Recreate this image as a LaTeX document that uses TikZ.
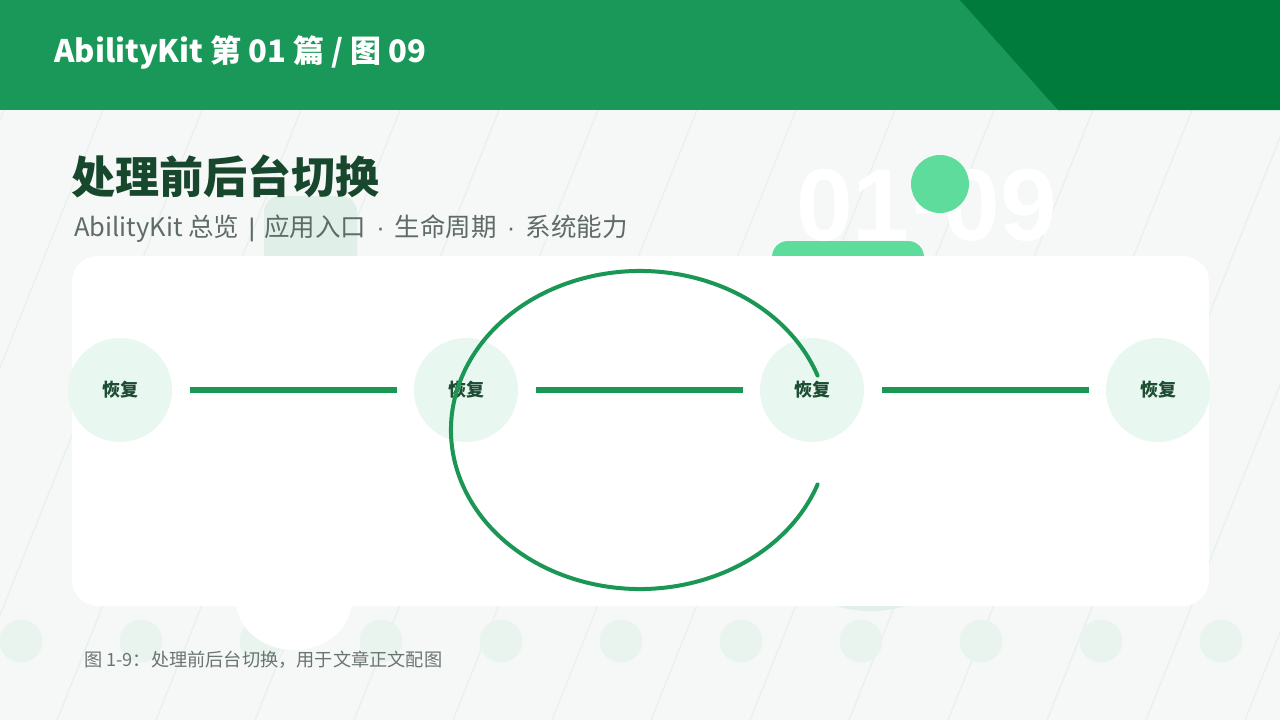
\documentclass[tikz,border=0pt]{standalone}
\usepackage{fontspec}
\setmainfont{Noto Sans CJK SC}
\newfontfamily\numfont{Liberation Sans}
\definecolor{bgpaper}{HTML}{F5F8F7}
\definecolor{bgline}{HTML}{E9F0ED}
\definecolor{headgreen}{HTML}{1A9859}
\definecolor{headdark}{HTML}{007B3B}
\definecolor{titlegreen}{HTML}{17472C}
\definecolor{subgray}{HTML}{5E6B66}
\definecolor{stepfill}{HTML}{E8F7EF}
\definecolor{steptext}{HTML}{1E4D33}
\definecolor{flowgreen}{HTML}{1A9655}
\definecolor{mint}{HTML}{5EDC9B}
\definecolor{palemint}{HTML}{E0F0E8}
\definecolor{dotmint}{HTML}{EAF4EF}
\definecolor{capgray}{HTML}{6A7570}
\newcommand{\middot}{{\numfont\hspace{3pt}\ ·\ \hspace{3pt}}}
\newcommand{\midbar}{{\numfont\hspace{2pt}\ |\ \hspace{2pt}}}
\begin{document}
\begin{tikzpicture}[x=1pt,y=-1pt]

      \useasboundingbox (0,0) rectangle (1280,720);
      \fill[bgpaper] (0,0) rectangle (1280,720);
      \foreach \xb in {-240,-141,...,1300}
        \draw[bgline,line width=1.3pt] (\xb,720) -- ({\xb+288},0);

      % header band
      \fill[headgreen] (0,0) rectangle (1280,110);
      \fill[headdark] (960,0) -- (1280,0) -- (1280,110) -- (1058,110) -- cycle;
      \node[anchor=base west,inner sep=0,text=white,font=\bfseries\fontsize{31}{36}\selectfont]
        (head) at (54,62) {AbilityKit 第 01 篇 / 图 09};

      % decorations behind the card
      \fill[palemint,rounded corners=16] (264,196) rectangle (357,300);
      \fill[mint,rounded corners=16] (772,241) rectangle (924,320);
      \node[anchor=base west,inner sep=0,text=white,font=\numfont\bfseries\fontsize{102}{110}\selectfont]
        (bignum) at (796,240) {01·09};
      \fill[mint] (940,184) circle[radius=29];
      \fill[palemint] (871,486) circle[radius=125];
      \foreach \k in {0,...,10}
        \fill[dotmint] ({21+120*\k},641) circle[radius=21.5];
      \fill[white] (294,600) ellipse[x radius=58,y radius=50];

      % card
      \fill[white,rounded corners=26] (72,256) rectangle (1209,606);

      \begin{scope}[every node/.style={circle,fill=stepfill,minimum size=104pt,inner sep=0,
          text=steptext,font=\bfseries\fontsize{18}{20}\selectfont}]
        \node (s1) at (120,390)  {恢复};
        \node (s2) at (466,390)  {恢复};
        \node (s3) at (812,390)  {恢复};
        \node (s4) at (1158,390) {恢复};
      \end{scope}

      \begin{scope}[every edge/.style={draw=flowgreen,line width=6pt,shorten <=18pt,shorten >=17pt}]
        \path (s1) edge (s2);
        \path (s2) edge (s3);
        \path (s3) edge (s4);
      \end{scope}

      % loop round the middle
      \coordinate (loopc) at (640,430);
      \draw[flowgreen,line width=4pt,line cap=round]
        (loopc) ++(-20:189 and 159) arc[start angle=-20,end angle=-340,x radius=189,y radius=159];

      % titles
      \node[anchor=west,inner sep=0,text=titlegreen,font=\bfseries\fontsize{44}{50}\selectfont]
        (title) at (71,176) {处理前后台切换};
      \node[anchor=base west,inner sep=0,text=subgray,font=\fontsize{25.5}{30}\selectfont]
        (subtitle) at (74,236) {AbilityKit 总览\midbar 应用入口\middot 生命周期\middot 系统能力};
      \node[anchor=west,inner sep=0,text=capgray,font=\fontsize{18.2}{21}\selectfont]
        (caption) at (84,660) {图 1-9：处理前后台切换，用于文章正文配图};

    \end{tikzpicture}
\end{document}
